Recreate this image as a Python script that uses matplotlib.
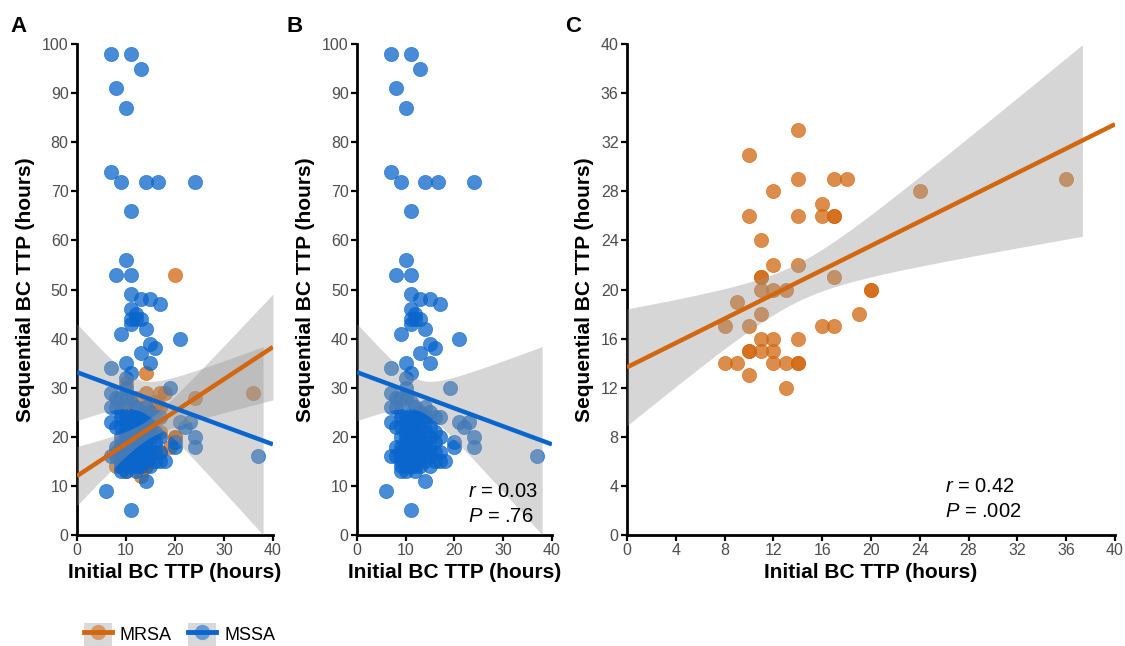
import numpy as np
import matplotlib
matplotlib.use("Agg")
import matplotlib.pyplot as plt
from matplotlib.patches import Patch
from matplotlib.lines import Line2D
from matplotlib.legend_handler import HandlerTuple

plt.rcParams['font.family'] = ['Liberation Sans', 'DejaVu Sans']
plt.rcParams['mathtext.fontset'] = 'custom'
plt.rcParams['mathtext.it'] = 'Liberation Sans:italic'
plt.rcParams['mathtext.rm'] = 'Liberation Sans'

# MRSA: initial vs sequential blood culture time to positivity (hours)
mrsa_x = [14, 10, 14, 17, 18, 12, 24, 36, 10, 14, 16, 16, 17, 17, 11, 12, 14, 11, 11,
          11, 12, 13, 17, 20, 20, 9, 11, 19, 8, 10, 16, 17, 11, 12, 14, 10, 10, 11,
          12, 8, 9, 12, 13, 14, 14, 10, 13, 20]
mrsa_y = [33, 31, 29, 29, 29, 28, 28, 29, 26, 26, 27, 26, 26, 26, 24, 22, 22, 21, 21,
          20, 20, 20, 21, 20, 20, 19, 18, 18, 17, 17, 17, 17, 16, 16, 16, 15, 15, 15,
          15, 14, 14, 14, 14, 14, 14, 13, 12, 53]

# MSSA
mssa_x = [7, 11, 13, 8, 10, 7, 9, 14, 16.6, 24, 11, 10, 8, 11, 11, 13, 15, 17, 11, 12,
          11, 12, 13, 11, 14, 9, 21, 15, 16, 13, 15, 10, 7, 11, 10, 19, 7, 10,
          8, 9, 10, 11, 12, 14, 15, 16, 17, 13, 7, 8, 9, 21, 22, 23, 24, 24, 20, 20,
          37, 14, 6, 11, 18, 17, 17, 7, 8, 7, 8,
          9, 10, 11, 12, 13, 14, 10, 11, 12, 13, 9, 10, 11, 12, 14, 15, 16, 9, 10,
          11, 12, 13, 15, 10, 11, 12, 13, 14, 16, 9, 10, 11, 12, 13, 15, 9, 10, 11,
          12, 14, 16, 8, 9, 10, 11, 12, 13, 15, 9, 10, 11, 12, 14, 17, 9, 10, 11,
          12, 13, 15, 10, 12, 9, 11, 13, 12, 14, 10, 16]
mssa_y = [98, 98, 95, 91, 87, 74, 72, 72, 72, 72, 66, 56, 53, 53, 49, 48, 48, 47, 46, 45,
          44, 44, 44, 43, 42, 41, 40, 39, 38, 37, 35, 35, 34, 33, 32, 30, 29, 30,
          28, 28, 28, 27, 26, 26, 25, 24, 24, 25, 26, 26, 25, 23, 22, 23, 20, 18, 19, 18,
          16, 11, 9, 5, 15, 17, 20, 23, 22, 16, 18,
          24, 24, 24, 24, 24, 23, 23, 23, 22, 22, 22, 21, 21, 21, 21, 22, 21, 20, 20,
          20, 20, 20, 20, 19, 19, 19, 19, 19, 19, 18, 18, 18, 18, 18, 18, 17, 17, 17,
          17, 17, 17, 16, 16, 16, 16, 16, 16, 16, 15, 15, 15, 15, 15, 15, 14, 14, 14,
          14, 14, 14, 13, 13, 13, 22, 17, 23, 24, 22, 15]

mrsa_stats = ["$r$ = 0.42", "$P$ = .002"]
mssa_stats = ["$r$ = 0.03", "$P$ = .76"]

ORANGE = '#D2670F'
BLUE = '#0A66CC'


def t975(df):
    z = 1.959964
    g1 = (z**3 + z) / 4
    g2 = (5 * z**5 + 16 * z**3 + 3 * z) / 96
    g3 = (3 * z**7 + 19 * z**5 + 17 * z**3 - 15 * z) / 384
    return z + g1 / df + g2 / df**2 + g3 / df**3


def smooth(ax, x, y, color, ylim):
    # linear fit with 95% confidence band, like geom_smooth(method = "lm")
    x = np.asarray(x, float)
    y = np.asarray(y, float)
    keep = (y >= ylim[0]) & (y <= ylim[1])
    x, y = x[keep], y[keep]
    n = len(x)
    b1, b0 = np.polyfit(x, y, 1)
    xs = np.linspace(0, 40, 300)
    fit = b0 + b1 * xs
    s = np.sqrt(np.sum((y - (b0 + b1 * x))**2) / (n - 2))
    se = s * np.sqrt(1 / n + (xs - x.mean())**2 / np.sum((x - x.mean())**2))
    lo = fit - t975(n - 2) * se
    hi = fit + t975(n - 2) * se
    ok = (lo >= ylim[0]) & (hi <= ylim[1])
    ax.fill_between(xs, lo, hi, where=ok, color='#999999', alpha=0.4, lw=0, zorder=3)
    ax.plot(xs, fit, color=color, lw=3.2, zorder=4, solid_capstyle='butt')


def style(ax, ymax, step):
    ax.set_xlim(0, 40)
    ax.set_ylim(0, ymax)
    ax.spines['top'].set_visible(False)
    ax.spines['right'].set_visible(False)
    for sp in ('left', 'bottom'):
        ax.spines[sp].set_linewidth(2.0)
    ax.tick_params(length=4, width=1.6, labelsize=11.5, labelcolor='#4d4d4d', pad=2)
    ax.set_yticks(np.arange(0, ymax + 0.1, step))
    ax.set_ylabel('Sequential BC TTP (hours)', fontsize=15, fontweight='bold', labelpad=5)
    ax.set_xlabel('Initial BC TTP (hours)', fontsize=15, fontweight='bold', labelpad=3)


fig = plt.figure(figsize=(11.25, 6.46), dpi=100)
axA = fig.add_axes([0.0684, 0.1718, 0.1742, 0.760])
axB = fig.add_axes([0.3173, 0.1718, 0.1733, 0.760])
axC = fig.add_axes([0.5573, 0.1718, 0.4338, 0.760])

pt = dict(s=105, alpha=0.75, lw=0.5, zorder=2)

# A: both groups
axA.scatter(mrsa_x, mrsa_y, color=ORANGE, **pt)
axA.scatter(mssa_x, mssa_y, color=BLUE, **pt)
smooth(axA, mrsa_x, mrsa_y, ORANGE, (0, 100))
smooth(axA, mssa_x, mssa_y, BLUE, (0, 100))
style(axA, 100, 10)
axA.set_xticks([0, 10, 20, 30, 40])

# B: MSSA only
axB.scatter(mssa_x, mssa_y, color=BLUE, **pt)
smooth(axB, mssa_x, mssa_y, BLUE, (0, 100))
style(axB, 100, 10)
axB.set_xticks([0, 10, 20, 30, 40])
axB.text(0.57, 0.088, mssa_stats[0], transform=axB.transAxes, fontsize=14.5, va='center')
axB.text(0.57, 0.037, mssa_stats[1], transform=axB.transAxes, fontsize=14.5, va='center')

# C: MRSA only, axis limited to 40 h
keepC = [i for i, v in enumerate(mrsa_y) if v <= 40]
axC.scatter([mrsa_x[i] for i in keepC], [mrsa_y[i] for i in keepC], color=ORANGE, **pt)
smooth(axC, mrsa_x, mrsa_y, ORANGE, (0, 40))
style(axC, 40, 4)
axC.set_xticks(np.arange(0, 41, 4))
axC.text(0.652, 0.098, mrsa_stats[0], transform=axC.transAxes, fontsize=14.5, va='center')
axC.text(0.652, 0.047, mrsa_stats[1], transform=axC.transAxes, fontsize=14.5, va='center')

for lab, xp in (('A', 10), ('B', 287), ('C', 565)):
    fig.text(xp / 1125, 1 - 27 / 646, lab, fontsize=16, fontweight='bold', va='center')

# legend keys: grey band, line and a semi-transparent point
handles = [(Patch(facecolor='#d9d9d9', edgecolor='none'),
            Line2D([], [], color=c, lw=3.5),
            Line2D([], [], ls='none', marker='o', ms=11, markerfacecolor=c,
                   markeredgewidth=0, alpha=0.55))
           for c in (ORANGE, BLUE)]
fig.legend(handles, ['MRSA', 'MSSA'], handler_map={tuple: HandlerTuple(ndivide=1)},
           loc='center left', bbox_to_anchor=(0.060, 0.018), ncol=2, frameon=False,
           fontsize=13, handlelength=1.55, handleheight=1.55, columnspacing=0.9,
           handletextpad=0.45)

fig.savefig('out.png', dpi=100)
